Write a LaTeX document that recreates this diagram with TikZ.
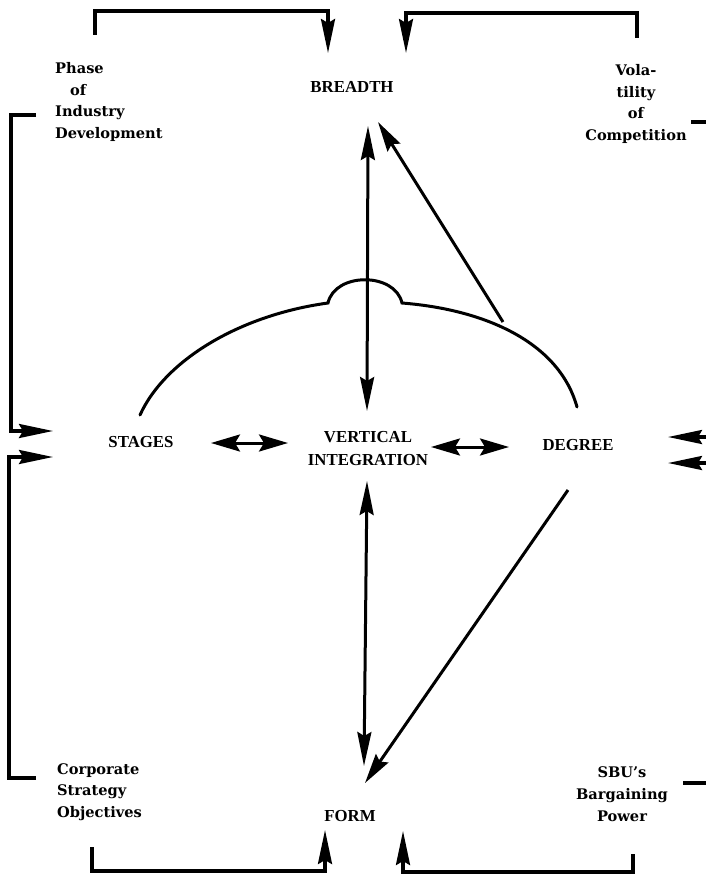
\documentclass[tikz,border=0pt]{standalone}
\usepackage{fontspec}
\setmainfont{DejaVu Serif}
\newfontfamily\capsfont{Liberation Serif}
\usetikzlibrary{arrows.meta}
\tikzset{
  lab/.style={font=\bfseries\fontsize{14.6}{21.8}\selectfont, inner sep=0pt},
  caplab/.style={font=\capsfont\bfseries\fontsize{16.8}{23}\selectfont, inner sep=0pt, align=center},
  conn/.style={line width=3pt, line cap=butt},
  brack/.style={line width=3.2pt, line join=miter},
  tipv/.style={-{Stealth[length=34pt,width=14pt,inset=4pt]}},
  tipvv/.style={{Stealth[length=34pt,width=14pt,inset=4pt]}-{Stealth[length=34pt,width=14pt,inset=4pt]}},
  tiph/.style={{Stealth[length=29pt,width=17pt,inset=5pt]}-{Stealth[length=29pt,width=17pt,inset=5pt]}},
  tipd/.style={-{Stealth[length=30pt,width=15pt,inset=4pt]}},
  arcline/.style={line width=3pt, line cap=round},
}
\begin{document}
\begin{tikzpicture}[x=1pt,y=-1pt]
\useasboundingbox (0,0) rectangle (706,875);

% labels
\node[caplab] (BREADTH) at (352,87) {BREADTH};
\node[caplab] (VI) at (368,449) {VERTICAL\\INTEGRATION};
\node[caplab] (STAGES) at (141,442) {STAGES};
\node[caplab] (DEGREE) at (578,445) {DEGREE};
\node[caplab] (FORM) at (350,816) {FORM};

\node[lab, anchor=west, align=left] (PHASE) at (55,102) {Phase\\\hspace{15pt}of\\Industry\\Development};
\node[lab, align=center] (VOL) at (636,104) {Vola-\\tility\\of\\Competition};
\node[lab, anchor=west, align=left] (CORP) at (57,792) {Corporate\\Strategy\\Objectives};
\node[lab, align=center] (SBU) at (622,794) {SBU's\\Bargaining\\Power};

% connector end points
\coordinate (BRs) at (368,126);
\coordinate (VIn) at (367,411);
\coordinate (VIs) at (367,481);
\coordinate (FOn) at (364,766);
\coordinate (FOne) at (365,783);
\coordinate (BRse) at (378,122);
\coordinate (DEnw) at (503,322);
\coordinate (DEsw) at (568,490);
\coordinate (STe) at (211,443);
\coordinate (VIw) at (288,443);
\coordinate (VIe) at (431,447);
\coordinate (DEw) at (509,447);

% internal connectors
\draw[conn, tipvv] (BRs) -- (VIn);
\draw[conn, tipvv] (VIs) -- (FOn);
\draw[conn, tipd] (DEnw) -- (BRse);
\draw[conn, tipd] (DEsw) -- (FOne);
\draw[conn, tiph] (STe) -- (VIw);
\draw[conn, tiph] (VIe) -- (DEw);

% arc over the three middle nodes
\coordinate (arcL) at (140,415);
\coordinate (arcR) at (577,407);
\draw[arcline] (arcL) .. controls (165,360) and (240,315) .. (328,303)
  .. controls (335,272) and (395,272) .. (402,303)
  .. controls (490,310) and (560,345) .. (arcR);

% outer brackets
\coordinate (TLa) at (95,35);
\coordinate (TLb) at (328,53);
\draw[brack, tipv] (TLa) -- (95,11) -- (328,11) -- (TLb);
\coordinate (TRa) at (637,38);
\coordinate (TRb) at (406,53);
\draw[brack, tipv] (TRa) -- (637,13) -- (406,13) -- (TRb);

\coordinate (LUa) at (36,115);
\coordinate (LUb) at (53,431);
\draw[brack, tipv] (LUa) -- (11,115) -- (11,431) -- (LUb);
\coordinate (LLa) at (36,778);
\coordinate (LLb) at (53,457);
\draw[brack, tipv] (LLa) -- (9,778) -- (9,457) -- (LLb);

\coordinate (BLa) at (92,847);
\coordinate (BLb) at (325,830);
\draw[brack, tipv] (BLa) -- (92,871) -- (325,871) -- (BLb);
\coordinate (BRa) at (633,854);
\coordinate (BRb) at (403,831);
\draw[brack, tipv] (BRa) -- (633,872) -- (403,872) -- (BRb);

\coordinate (RUa) at (691,122);
\coordinate (RUb) at (668,437);
\draw[brack, tipv] (RUa) -- (709,122) -- (709,437) -- (RUb);
\coordinate (RLa) at (683,783);
\coordinate (RLb) at (668,463);
\draw[brack, tipv] (RLa) -- (709,783) -- (709,463) -- (RLb);
\end{tikzpicture}
\end{document}
